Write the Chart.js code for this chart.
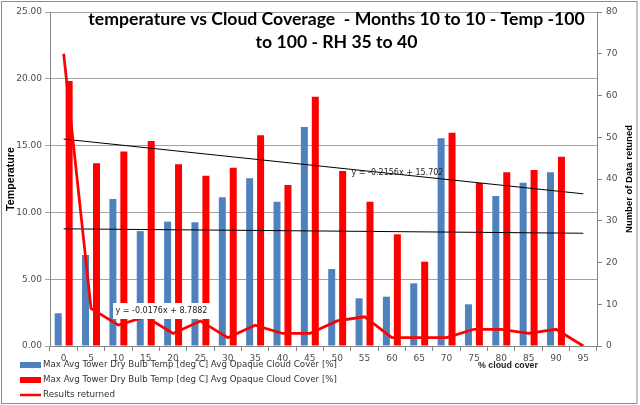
<!DOCTYPE html>
<html><head><meta charset="utf-8">
<script src="https://cdn.jsdelivr.net/npm/chart.js@4.4.0/dist/chart.umd.min.js"></script>
<style>html,body{margin:0;padding:0;background:#fff;}#wrap{width:640px;height:405px;}</style>
</head><body><div id="wrap"><canvas id="c" width="640" height="405"></canvas></div>
<script>
// ---- data ----
const categories = ['0','5','10','15','20','25','30','35','40','45','50','55','60','65','70','75','80','85','90','95'];
const maxTempA = [2.45, 6.81, 11.0, 8.6, 9.31, 9.26, 11.13, 12.55, 10.8, 16.4, 5.76, 3.57, 3.69, 4.69, 15.55, 3.12, 11.23, 12.22, 13.0, null];
const maxTempB = [19.84, 13.67, 14.55, 15.34, 13.6, 12.75, 13.35, 15.77, 12.05, 18.66, 13.1, 10.8, 8.36, 6.31, 15.97, 12.2, 13.0, 13.17, 14.17, null];
const resultsReturned = [70, 9, 5, 7, 3, 6, 2, 5, 3, 3, 6, 7, 2, 2, 2, 4, 4, 3, 4, 0];
const trendAEnds = [8.77, 8.44];     // y = -0.0176x + 8.7882 (first / last category)
const trendBEnds = [15.49, 11.39];   // y = -0.2156x + 15.702 (first / last category)
const leftTicks = [0, 5, 10, 15, 20, 25];
const rightTicks = [0, 10, 20, 30, 40, 50, 60, 70, 80];
const titleLines = ['temperature vs Cloud Coverage  - Months 10 to 10 - Temp -100', 'to 100 - RH 35 to 40'];
const seriesLabelA = 'Max Avg Tower Dry Bulb Temp [deg C] Avg Opaque Cloud Cover [%]';
const seriesLabelB = 'Max Avg Tower Dry Bulb Temp [deg C] Avg Opaque Cloud Cover [%]';
const lineLabel = 'Results returned';
const trendLabelA = 'y = -0.0176x + 8.7882';
const trendLabelB = 'y = -0.2156x + 15.702';

function endsToSeries(ends){
  return categories.map((c,i)=> i===0 ? ends[0] : (i===categories.length-1 ? ends[1] : null));
}

const TICK_FONT = {family:'DejaVu Sans', size:9};
const TICK_COLOR = '#4d4d4d';
const AXIS_COLOR = '#868686';

function fitSize(ctx, text, weight, family, target){
  ctx.font = weight+' 20px "'+family+'"';
  return 20*target/ctx.measureText(text).width;
}
function drawFit(ctx, text, weight, family, target, x, y, align, baseline, color){
  const s = fitSize(ctx, text, weight, family, target);
  ctx.font = weight+' '+s.toFixed(2)+'px "'+family+'"';
  ctx.textAlign = align; ctx.textBaseline = baseline; ctx.fillStyle = color;
  ctx.fillText(text, x, y);
}

const decor = {
  id:'decor',
  beforeDraw(chart){
    const ctx = chart.ctx;
    ctx.save(); ctx.fillStyle='#fff'; ctx.fillRect(0,0,chart.width,chart.height); ctx.restore();
  },
  afterDraw(chart){
    const ctx = chart.ctx;
    ctx.save();
    // outer border
    ctx.strokeStyle='#8c8c8c'; ctx.lineWidth=1;
    ctx.strokeRect(1.5,1.5,635.5,402);
    // title
    drawFit(ctx, titleLines[0], 'bold', 'Lato', 497, 336.5, 25, 'center', 'alphabetic', '#000');
    const s1 = fitSize(ctx, titleLines[0], 'bold', 'Lato', 497);
    ctx.font = 'bold '+s1.toFixed(2)+'px "Lato"';
    ctx.fillText(titleLines[1], 336.5, 47.5);
    // left axis title
    ctx.save(); ctx.translate(11, 179); ctx.rotate(-Math.PI/2);
    drawFit(ctx, 'Temperature', 'bold', 'Liberation Sans', 64, 0, 0, 'center', 'middle', '#000');
    ctx.restore();
    // right axis title
    ctx.save(); ctx.translate(629, 179); ctx.rotate(-Math.PI/2);
    drawFit(ctx, 'Number of Data retuned', 'bold', 'Liberation Sans', 108, 0, 0, 'center', 'middle', '#000');
    ctx.restore();
    // x axis title
    drawFit(ctx, '% cloud cover', 'bold', 'Liberation Sans', 60, 508, 366, 'center', 'middle', '#222');
    // trend labels
    ctx.fillStyle='#fff'; ctx.fillRect(113, 303, 97, 16);
    drawFit(ctx, trendLabelA, 'normal', 'DejaVu Sans', 92, 115.5, 311, 'left', 'middle', '#222');
    drawFit(ctx, trendLabelB, 'normal', 'DejaVu Sans', 92, 351.5, 172.5, 'left', 'middle', '#222');
    // legend
    const ds = chart.data.datasets;
    const items = [ds[3], ds[4], ds[0]];
    const ys = [365, 380, 395];
    items.forEach((d,i)=>{
      if(d.type==='line'){
        ctx.strokeStyle=d.borderColor; ctx.lineWidth=2.5;
        ctx.beginPath(); ctx.moveTo(20, ys[i]); ctx.lineTo(41, ys[i]); ctx.stroke();
        drawFit(ctx, d.label, 'normal', 'DejaVu Sans', 72, 43, ys[i], 'left', 'middle', '#333');
      } else {
        ctx.fillStyle=d.backgroundColor; ctx.fillRect(20, ys[i]-3, 21, 6);
        drawFit(ctx, d.label, 'normal', 'DejaVu Sans', 294, 43, ys[i], 'left', 'middle', '#333');
      }
    });
    ctx.restore();
  }
};

new Chart(document.getElementById('c'), {
  type:'bar',
  data:{
    labels: categories,
    datasets:[
      {type:'line', label: lineLabel, data: resultsReturned, yAxisID:'y1', borderColor:'#ff0000', backgroundColor:'#ff0000', borderWidth:2.75, pointRadius:0, tension:0, fill:false, order:0},
      {type:'line', label:'trendB', data: endsToSeries(trendBEnds), yAxisID:'y', borderColor:'#000', borderWidth:1, pointRadius:0, spanGaps:true, fill:false, order:1},
      {type:'line', label:'trendA', data: endsToSeries(trendAEnds), yAxisID:'y', borderColor:'#000', borderWidth:1, pointRadius:0, spanGaps:true, fill:false, order:1},
      {type:'bar', label: seriesLabelA, data: maxTempA, yAxisID:'y', backgroundColor:'#4F81BD', barPercentage:0.64, categoryPercentage:0.8, order:2},
      {type:'bar', label: seriesLabelB, data: maxTempB, yAxisID:'y', backgroundColor:'#FF0000', barPercentage:0.64, categoryPercentage:0.8, order:3}
    ]
  },
  options:{
    responsive:false, animation:false, devicePixelRatio:1,
    layout:{padding:{top:12, left:0, right:0, bottom:0}},
    plugins:{legend:{display:false}, title:{display:false}, tooltip:{enabled:false}},
    scales:{
      x:{
        offset:true,
        grid:{offset:true, drawOnChartArea:false, drawTicks:true, tickLength:5, color:AXIS_COLOR},
        border:{color:AXIS_COLOR},
        ticks:{font:TICK_FONT, color:TICK_COLOR, padding:2, maxRotation:0, autoSkip:false},
        afterFit(s){ s.height = 59; }
      },
      y:{
        position:'left', min:leftTicks[0], max:leftTicks[leftTicks.length-1],
        afterBuildTicks(s){ s.ticks = leftTicks.map(v=>({value:v})); },
        ticks:{font:TICK_FONT, color:TICK_COLOR, padding:3, callback:v=>Number(v).toFixed(2)},
        grid:{color:'#a3a3a3', tickLength:5},
        border:{color:AXIS_COLOR},
        afterFit(s){ s.width = 50; }
      },
      y1:{
        position:'right', min:rightTicks[0], max:rightTicks[rightTicks.length-1],
        afterBuildTicks(s){ s.ticks = rightTicks.map(v=>({value:v})); },
        ticks:{font:TICK_FONT, color:TICK_COLOR, padding:4},
        grid:{drawOnChartArea:false, tickLength:5, color:AXIS_COLOR},
        border:{color:AXIS_COLOR},
        afterFit(s){ s.width = 43; }
      }
    }
  },
  plugins:[decor]
});
</script>
</body></html>
